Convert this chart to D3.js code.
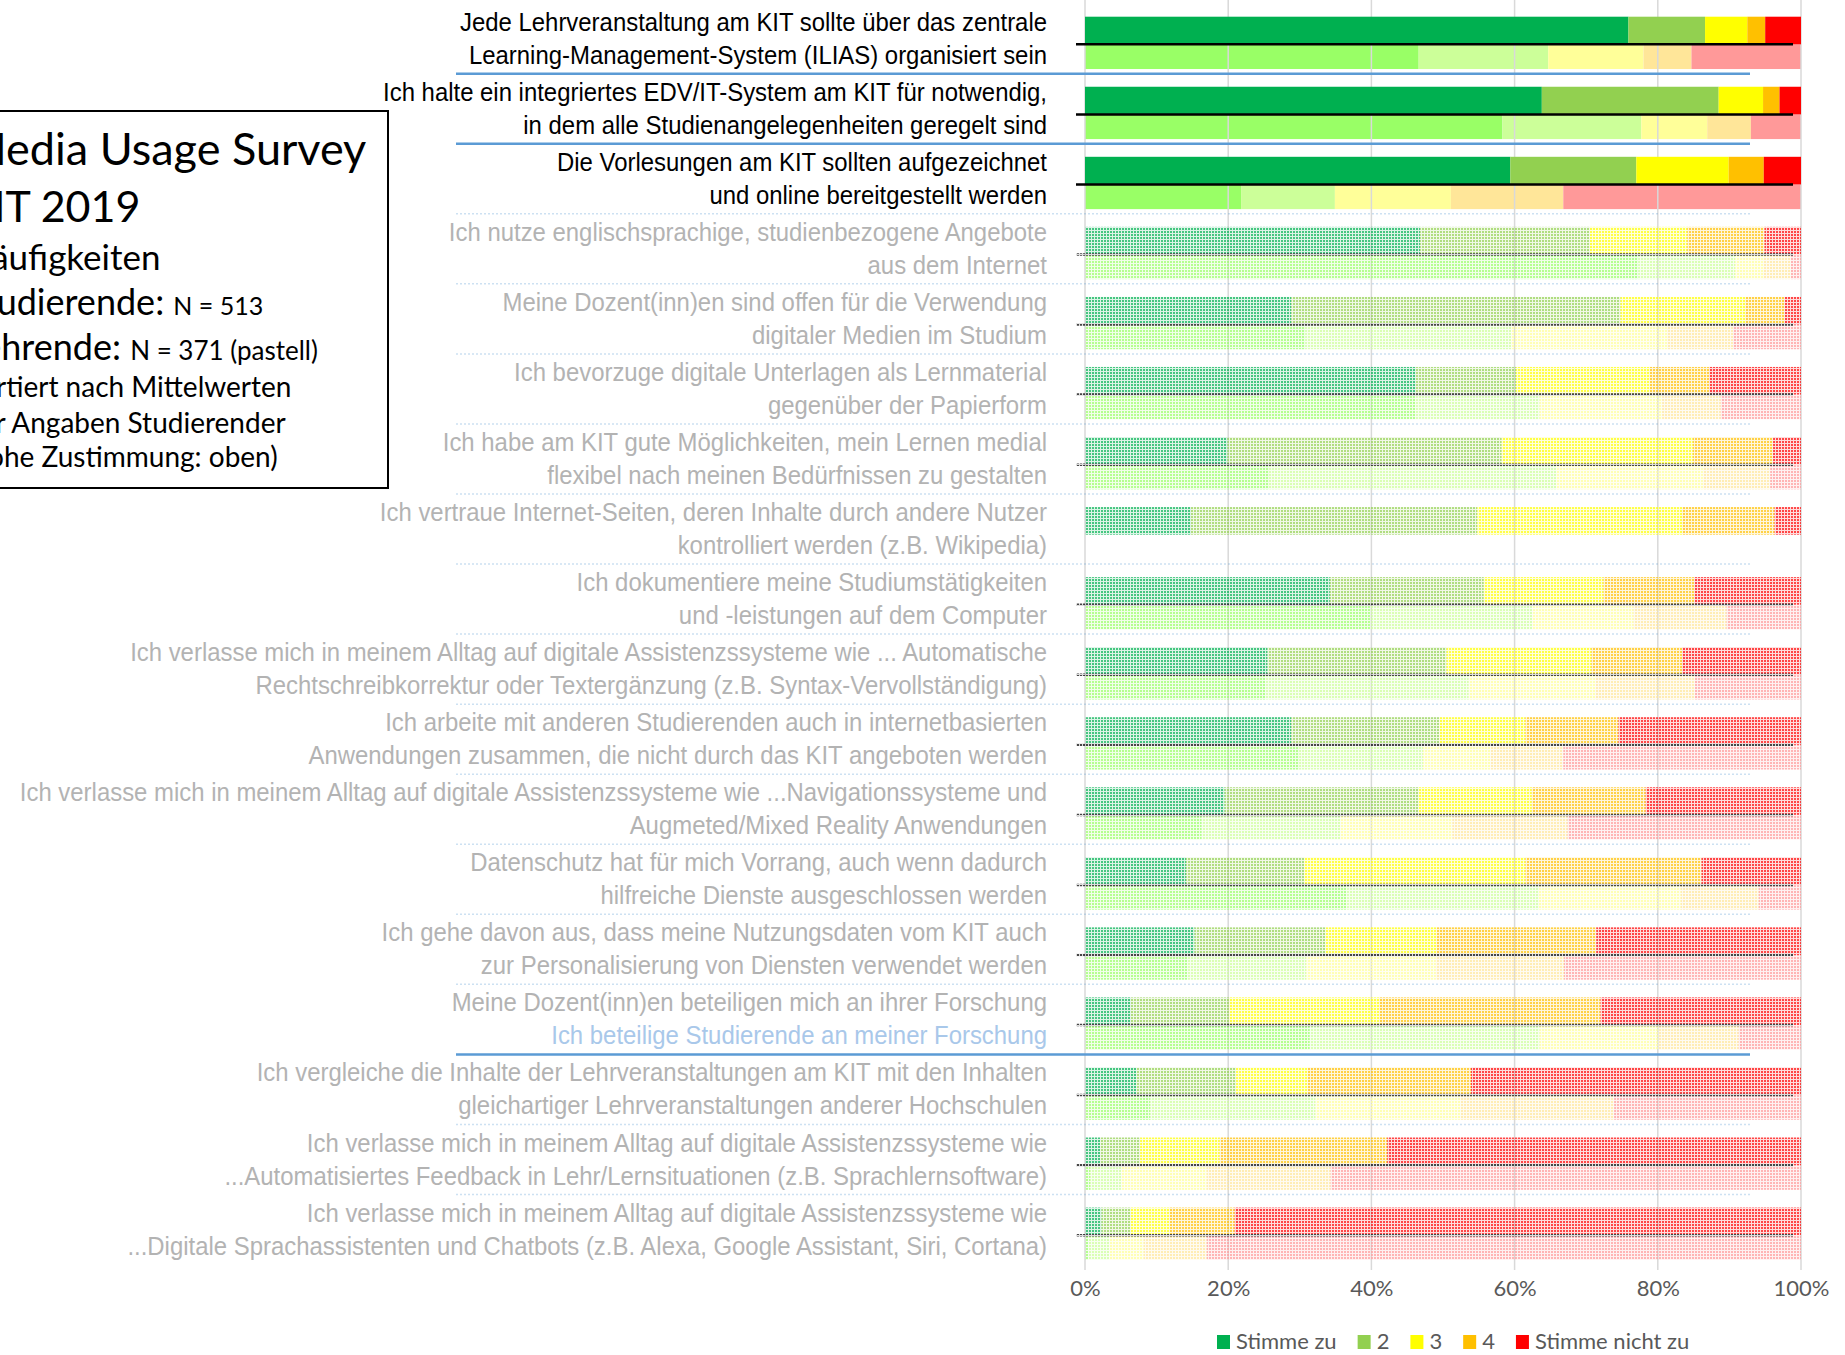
<!DOCTYPE html>
<html>
<head>
<meta charset="utf-8">
<script src="https://cdn.jsdelivr.net/npm/d3@7"></script>
<style>
  body { margin: 0; background: #fff; }
</style>
</head>
<body>
<div id="chart"></div>
<script>
// questions, two lines each (top = highest agreement of students)
var questions = [
  ["Jede Lehrveranstaltung am KIT sollte über das zentrale", "Learning-Management-System (ILIAS) organisiert sein"],
  ["Ich halte ein integriertes EDV/IT-System am KIT für notwendig,", "in dem alle Studienangelegenheiten geregelt sind"],
  ["Die Vorlesungen am KIT sollten aufgezeichnet", "und online bereitgestellt werden"],
  ["Ich nutze englischsprachige, studienbezogene Angebote", "aus dem Internet"],
  ["Meine Dozent(inn)en sind offen für die Verwendung", "digitaler Medien im Studium"],
  ["Ich bevorzuge digitale Unterlagen als Lernmaterial", "gegenüber der Papierform"],
  ["Ich habe am KIT gute Möglichkeiten, mein Lernen medial", "flexibel nach meinen Bedürfnissen zu gestalten"],
  ["Ich vertraue Internet-Seiten, deren Inhalte durch andere Nutzer", "kontrolliert werden (z.B. Wikipedia)"],
  ["Ich dokumentiere meine Studiumstätigkeiten", "und -leistungen auf dem Computer"],
  ["Ich verlasse mich in meinem Alltag auf digitale Assistenzssysteme wie ... Automatische", "Rechtschreibkorrektur oder Textergänzung (z.B. Syntax-Vervollständigung)"],
  ["Ich arbeite mit anderen Studierenden auch in internetbasierten", "Anwendungen zusammen, die nicht durch das KIT angeboten werden"],
  ["Ich verlasse mich in meinem Alltag auf digitale Assistenzssysteme wie ...Navigationssysteme und", "Augmeted/Mixed Reality Anwendungen"],
  ["Datenschutz hat für mich Vorrang, auch wenn dadurch", "hilfreiche Dienste ausgeschlossen werden"],
  ["Ich gehe davon aus, dass meine Nutzungsdaten vom KIT auch", "zur Personalisierung von Diensten verwendet werden"],
  ["Meine Dozent(inn)en beteiligen mich an ihrer Forschung", "Ich beteilige Studierende an meiner Forschung"],
  ["Ich vergleiche die Inhalte der Lehrveranstaltungen am KIT mit den Inhalten", "gleichartiger Lehrveranstaltungen anderer Hochschulen"],
  ["Ich verlasse mich in meinem Alltag auf digitale Assistenzssysteme wie", "...Automatisiertes Feedback in Lehr/Lernsituationen (z.B. Sprachlernsoftware)"],
  ["Ich verlasse mich in meinem Alltag auf digitale Assistenzssysteme wie", "...Digitale Sprachassistenten und Chatbots (z.B. Alexa, Google Assistant, Siri, Cortana)"]
];

// percentages: Stimme zu, 2, 3, 4, Stimme nicht zu
var students = [
  [75.9, 10.7, 5.9, 2.5, 5.0],
  [63.8, 24.7, 6.2, 2.3, 3.0],
  [59.4, 17.6, 12.9, 4.9, 5.2],
  [46.8, 23.7, 13.6, 10.8, 5.1],
  [28.8, 46.0, 17.4, 5.5, 2.3],
  [46.2, 14.0, 18.7, 8.3, 12.8],
  [19.9, 38.3, 26.7, 11.2, 3.9],
  [14.8, 40.0, 28.6, 12.9, 3.7],
  [34.2, 21.5, 16.7, 12.7, 14.9],
  [25.5, 25.0, 20.2, 12.7, 16.6],
  [28.8, 20.7, 12.0, 13.0, 25.5],
  [19.5, 27.1, 15.8, 15.9, 21.7],
  [14.1, 16.5, 30.9, 24.6, 13.9],
  [15.3, 18.3, 15.5, 22.3, 28.6],
  [6.4, 13.7, 21.0, 30.9, 28.0],
  [7.2, 13.9, 10.0, 22.8, 46.1],
  [2.1, 5.6, 11.1, 23.4, 57.8],
  [2.3, 4.1, 5.4, 9.1, 79.1]
];

// teachers (pastel), null = question not asked
var teachers = [
  [46.6, 18.1, 13.3, 6.7, 15.3],
  [58.3, 19.4, 9.2, 6.1, 7.0],
  [21.8, 13.1, 16.2, 15.7, 33.2],
  [77.3, 13.5, 3.9, 3.9, 1.4],
  [30.8, 28.7, 21.8, 9.2, 9.5],
  [46.1, 17.4, 17.1, 8.2, 11.2],
  [25.7, 40.1, 20.5, 9.4, 4.3],
  null,
  [39.8, 22.7, 14.1, 13.0, 10.4],
  [25.2, 28.4, 17.7, 13.9, 14.8],
  [29.9, 17.3, 9.4, 10.2, 33.2],
  [16.3, 19.4, 15.6, 16.1, 32.6],
  [36.5, 26.9, 19.8, 10.9, 5.9],
  [14.3, 16.6, 18.1, 17.9, 33.1],
  [31.4, 32.1, 16.6, 11.2, 8.7],
  [9.1, 23.1, 20.3, 21.4, 26.1],
  [0.7, 4.4, 11.9, 17.3, 65.7],
  [0.5, 2.9, 4.8, 8.8, 83.0]
];

// only the first three statements are shown in full colour
var highlighted = [true, true, true, false, false, false, false, false, false,
                   false, false, false, false, false, false, false, false, false];

var answers = ["Stimme zu", "2", "3", "4", "Stimme nicht zu"];
var ticks = [0, 20, 40, 60, 80, 100];

var infoLines = [
  [["Media Usage Survey", 45]],
  [["KIT 2019", 43]],
  [["Häufigkeiten", 35]],
  [["Studierende: ", 36], ["N = 513", 25]],
  [["Lehrende: ", 36], ["N = 371 (pastell)", 26]],
  [["Sortiert nach Mittelwerten", 28]],
  [["der Angaben Studierender", 28]],
  [["(hohe Zustimmung: oben)", 28]]
];

var studentColors = ["#00B050", "#92D050", "#FFFF00", "#FFC000", "#FF0000"];
var teacherColors = ["#99FF66", "#CCFF99", "#FFFF99", "#FFE699", "#FF9999"];

var width = 1845, height = 1355;

var svg = d3.select("#chart")
  .append("svg")
    .attr("width", width)
    .attr("height", height);

// dotted texture for the faded rows
var defs = svg.append("defs");
var pat = defs.append("pattern")
    .attr("id", "dots")
    .attr("width", 3).attr("height", 3)
    .attr("patternUnits", "userSpaceOnUse");
pat.append("rect").attr("width", 3).attr("height", 3).attr("fill", "#fff").attr("fill-opacity", 0.14);
pat.append("rect").attr("width", 2).attr("height", 2).attr("fill", "#fff").attr("fill-opacity", 0.68);
defs.append("mask").attr("id", "fade")
  .append("rect")
    .attr("width", width).attr("height", height)
    .attr("fill", "url(#dots)");

var x = d3.scaleLinear().domain([0, 100]).range([1085, 1801]);

var n = questions.length;
var step = 70.05, pad = 0.253;
var y = d3.scaleBand()
  .domain(d3.range(n))
  .range([16.7, 16.7 + step * (n - pad)])
  .paddingInner(pad)
  .paddingOuter(0);

var bw = y.bandwidth();
var hS = bw * 0.528;     // students bar
var hT = bw - hS;        // teachers bar

function segments(vals, i) {
  var c = d3.cumsum(vals);
  return vals.map(function (v, k) {
    return {i: i, k: k, x0: c[k] - v, x1: c[k]};
  });
}

var rows = d3.range(n).map(function (i) {
  return {i: i, s: segments(students[i], i), t: teachers[i] ? segments(teachers[i], i) : []};
});
var fullRows = rows.filter(function (d) { return highlighted[d.i]; });
var fadeRows = rows.filter(function (d) { return !highlighted[d.i]; });

var gridBottom = 1270;

var gTeach = svg.append("g");
var gGrid = svg.append("g");
var gStud = svg.append("g");
var gFade = svg.append("g").attr("mask", "url(#fade)");

function drawTeachers(layer, list) {
  layer.append("g").selectAll("g")
    .data(list).enter().append("g")
    .selectAll("rect")
    .data(function (d) { return d.t; })
    .enter().append("rect")
      .attr("x", function (s) { return x(s.x0); })
      .attr("width", function (s) { return x(s.x1) - x(s.x0); })
      .attr("y", function (s) { return y(s.i) + hS; })
      .attr("height", hT)
      .attr("fill", function (s) { return teacherColors[s.k]; });
}

function drawStudents(layer, list) {
  layer.append("g").selectAll("g")
    .data(list).enter().append("g")
    .selectAll("rect")
    .data(function (d) { return d.s; })
    .enter().append("rect")
      .attr("x", function (s) { return x(s.x0); })
      .attr("width", function (s) { return x(s.x1) - x(s.x0); })
      .attr("y", function (s) { return y(s.i); })
      .attr("height", hS)
      .attr("fill", function (s) { return studentColors[s.k]; });

  // line between students and teachers
  layer.append("g").selectAll("line")
    .data(list.filter(function (d) { return d.t.length; })).enter().append("line")
      .attr("x1", x(0) - 9)
      .attr("x2", x(100) - 8)
      .attr("y1", function (d) { return y(d.i) + hS; })
      .attr("y2", function (d) { return y(d.i) + hS; })
      .attr("stroke", "#000")
      .attr("stroke-width", 2.5);
}

drawTeachers(gTeach, fullRows);
drawStudents(gStud, fullRows);
drawTeachers(gFade, fadeRows);
drawStudents(gFade, fadeRows);

// vertical gridlines
gGrid.selectAll("line")
  .data(ticks).enter().append("line")
    .attr("x1", function (d) { return x(d); })
    .attr("x2", function (d) { return x(d); })
    .attr("y1", 0)
    .attr("y2", gridBottom)
    .attr("stroke", "#d9d9d9")
    .attr("stroke-width", 1.5);

// separators between the statements
var strong = [0, 1, 14];
svg.append("g").selectAll("line")
  .data(d3.range(n - 1)).enter().append("line")
    .attr("x1", 456)
    .attr("x2", 1750)
    .attr("y1", function (i) { return y(i) + 57; })
    .attr("y2", function (i) { return y(i) + 57; })
    .attr("stroke", "#5b9bd5")
    .attr("stroke-width", function (i) { return strong.indexOf(i) >= 0 ? 2.5 : 1.5; })
    .attr("stroke-opacity", function (i) { return strong.indexOf(i) >= 0 ? 1 : 0.3; })
    .attr("stroke-dasharray", function (i) { return strong.indexOf(i) >= 0 ? null : "2,2"; });

// statement labels (Arial-like, slightly condensed)
var labels = svg.append("g")
  .attr("font-family", "'Liberation Sans', Arial, sans-serif")
  .attr("font-size", 26)
  .attr("text-anchor", "end");

questions.forEach(function (q, i) {
  q.forEach(function (line, j) {
    var col = highlighted[i] ? "#000" : "#b3b3b3";
    if (i === 14 && j === 1) col = "#a9c8ea";
    labels.append("text")
      .attr("transform", "translate(1047," + (y(i) + (j === 0 ? 14 : 47)) + ") scale(0.92,1)")
      .attr("fill", col)
      .text(line);
  });
});

// x axis
var axis = svg.append("g")
  .attr("transform", "translate(0," + 1280 + ")")
  .call(d3.axisBottom(x).tickValues(ticks).tickSize(0).tickPadding(0)
    .tickFormat(function (d) { return d + "%"; }));
axis.select(".domain").remove();
axis.selectAll("text")
  .attr("dy", "0.71em")
  .attr("font-family", "Lato, 'Open Sans', sans-serif")
  .attr("font-size", 22)
  .attr("fill", "#595959");

// legend
var legend = svg.append("g")
  .attr("font-family", "Lato, 'Open Sans', sans-serif")
  .attr("font-size", 22)
  .attr("fill", "#595959");
var lx = 1217;
answers.forEach(function (a, k) {
  legend.append("rect")
    .attr("x", lx).attr("y", 1335)
    .attr("width", 13).attr("height", 14)
    .attr("fill", studentColors[k]);
  var t = legend.append("text")
    .attr("x", lx + 19).attr("y", 1349)
    .text(a);
  lx += 19 + t.node().getComputedTextLength() + 21;
});

// info box
svg.append("rect")
  .attr("x", -5).attr("y", 111)
  .attr("width", 393).attr("height", 377)
  .attr("fill", "none")
  .attr("stroke", "#000")
  .attr("stroke-width", 2);

var infoBase = [165, 222, 270, 315, 360, 397, 433, 467];
var info = svg.append("g")
  .attr("font-family", "Lato, 'Open Sans', sans-serif")
  .attr("fill", "#000");
infoLines.forEach(function (parts, i) {
  var t = info.append("text").attr("x", -35).attr("y", infoBase[i]);
  parts.forEach(function (p) {
    t.append("tspan").attr("font-size", p[1]).text(p[0]);
  });
});
</script>
</body>
</html>
